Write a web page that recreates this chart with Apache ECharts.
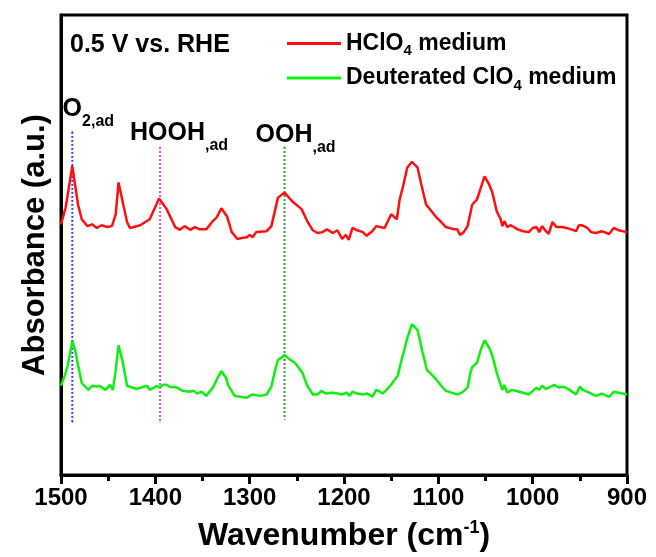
<!DOCTYPE html>
<html>
<head>
<meta charset="utf-8">
<script src="https://cdn.jsdelivr.net/npm/echarts@6/dist/echarts.min.js"></script>
<style>html,body{margin:0;padding:0;background:#fff}#c{width:656px;height:557px}</style>
</head>
<body>
<div id="c"></div>
<script>
// ---- data ----
const redWavenumber = [1500,1495,1488,1482,1478,1472,1467,1462,1457,1451,1446,1442,1439,1434,1430,1427,1416,1406,1396,1388,1379,1374,1369,1363,1358,1353,1346,1339,1335,1330,1324,1319,1313,1309,1303,1300,1297,1293,1282,1277,1270,1263,1255,1245,1239,1233,1228,1223,1218,1212,1207,1202,1198,1195,1191,1186,1180,1176,1170,1166,1157,1150,1144,1141,1137,1133,1128,1122,1118,1113,1107,1102,1097,1092,1083,1080,1077,1073,1069,1064,1059,1051,1046,1043,1038,1034,1032,1030,1027,1023,1016,1010,1004,1000,996,993,990,986,983,979,975,969,964,959,954,951,948,942,938,933,927,919,914,909,900];
const redAbsorbance = [54.5,58.2,67.2,58.8,55.6,54.1,54.5,53.7,54.3,53.9,54.1,56.7,63.6,58.8,55.0,53.7,54.3,55.6,60.1,57.8,53.9,53.3,54.1,53.3,53.9,53.4,53.4,55.2,56.0,58.0,56.2,52.8,51.3,51.5,51.7,52.2,51.7,52.8,53.0,54.1,60.3,61.4,59.5,57.8,55.2,53.2,52.6,52.8,53.4,52.6,53.2,51.3,52.2,51.1,53.7,53.2,52.8,52.0,53.0,54.1,53.7,56.7,55.6,59.9,63.1,66.8,68.1,66.8,63.1,58.8,57.3,56.0,55.0,53.9,53.4,53.4,52.2,52.8,54.1,58.8,59.9,64.9,63.1,61.6,57.3,55.6,54.1,55.2,53.9,54.3,53.4,53.0,52.8,53.7,53.9,52.8,54.1,53.0,52.4,55.0,53.9,53.9,53.7,53.4,53.0,54.3,54.3,53.7,52.8,52.6,53.0,52.4,53.7,53.2,52.8];

const greenWavenumber = [1500,1496,1493,1488,1485,1483,1478,1471,1467,1462,1459,1453,1448,1445,1442,1439,1435,1430,1420,1409,1406,1398,1395,1392,1388,1385,1377,1371,1364,1359,1356,1351,1346,1339,1334,1330,1325,1323,1316,1310,1303,1300,1297,1289,1282,1277,1273,1270,1266,1263,1258,1252,1248,1244,1239,1233,1228,1224,1219,1212,1207,1202,1197,1194,1191,1186,1180,1175,1170,1166,1162,1159,1154,1150,1143,1139,1136,1133,1128,1122,1117,1112,1107,1102,1097,1092,1086,1080,1075,1069,1066,1064,1059,1055,1051,1046,1043,1038,1034,1032,1030,1027,1022,1014,1004,996,993,990,986,983,977,972,967,961,954,950,947,940,933,927,919,914,909,900];
const greenAbsorbance = [19.4,21.6,23.7,29.1,27.2,25.0,20.0,18.5,19.4,19.2,19.4,18.5,19.6,18.5,22.8,28.2,25.0,19.4,18.7,19.4,18.5,19.4,19.0,19.6,19.6,19.2,19.0,18.3,18.1,18.3,17.7,18.1,17.2,19.0,21.1,22.6,21.1,19.6,17.2,17.0,16.8,17.2,17.5,17.2,17.5,19.2,22.8,25.0,25.6,26.1,25.2,24.4,23.3,22.2,19.4,17.5,17.5,18.3,17.7,17.9,17.7,17.5,17.9,17.2,18.1,17.7,17.5,17.7,17.0,18.5,18.1,17.7,18.7,19.6,21.6,25.0,27.2,29.7,32.8,31.5,26.9,22.8,21.8,20.7,19.4,18.3,17.9,17.5,17.9,19.0,22.2,23.5,24.4,27.2,29.3,27.6,26.1,22.2,19.6,18.5,19.6,17.9,18.5,18.1,17.5,19.0,18.5,19.4,18.7,19.0,19.6,19.0,19.2,18.5,17.5,19.2,18.5,17.9,17.2,17.7,17.0,18.1,17.9,17.5];

const seriesNames = ['HClO4 medium', 'Deuterated ClO4 medium'];
const legendRich = ['{n|HClO}{s|4}{n| medium}', '{n|Deuterated ClO}{s|4}{n| medium}'];

const markerWavenumber = [1488, 1395, 1263];
const markerTop = [74.6, 71.3, 71.3];
const markerBottom = [11.4, 11.4, 12.1];
const markerText = ['{m|O}{s|2,ad}', '{m|HOOH}{s|,ad}', '{m|OOH}{s|,ad}'];
const markerColors = ['#3a3aff', '#ff3cff', '#3c963c'];
const markerLabelOffset = [[16, -2], [19, 7], [11, 9]];

const xTickMin = 900, xTickMax = 1500, xTickStep = 100;
const FONT = "'Liberation Sans', Arial, sans-serif";

// ---- chart ----
const chart = echarts.init(document.getElementById('c'), null, {renderer: 'canvas'});

const markerSeries = markerWavenumber.map((w, i) => ({
  type: 'line',
  silent: true,
  symbol: 'rect',
  symbolSize: 1,
  showSymbol: true,
  z: 1,
  lineStyle: {color: markerColors[i], width: 2, type: [2, 2]},
  itemStyle: {color: markerColors[i]},
  data: [
    {
      value: [w, markerTop[i]],
      label: {
        show: true,
        position: 'top',
        distance: 0,
        offset: markerLabelOffset[i],
        formatter: markerText[i],
        rich: {
          m: {fontSize: 25, lineHeight: 40, fontWeight: 'bold', color: '#000', fontFamily: FONT},
          s: {fontSize: 16, lineHeight: 16, fontWeight: 'bold', color: '#000', fontFamily: FONT, verticalAlign: 'bottom'}
        }
      }
    },
    [w, markerBottom[i]]
  ]
}));

const zip = (a, b) => a.map((v, i) => [v, b[i]]);

chart.setOption({
  animation: false,
  backgroundColor: '#fff',
  grid: {left: 61, right: 29, top: 15, bottom: 79, show: true, borderColor: '#000', borderWidth: 3, backgroundColor: 'transparent'},
  legend: {
    data: seriesNames,
    orient: 'vertical',
    left: 287,
    top: 32,
    padding: 0,
    itemGap: 8,
    itemWidth: 54,
    itemHeight: 3,
    icon: 'rect',
    formatter: name => legendRich[seriesNames.indexOf(name)],
    textStyle: {
      rich: {
        n: {fontSize: 23, lineHeight: 30, fontWeight: 'bold', color: '#000', fontFamily: FONT},
        s: {fontSize: 15, lineHeight: 14, fontWeight: 'bold', color: '#000', fontFamily: FONT, verticalAlign: 'bottom'}
      }
    }
  },
  xAxis: {
    type: 'value',
    inverse: true,
    min: xTickMin,
    max: xTickMax,
    interval: xTickStep,
    axisLine: {show: true, lineStyle: {color: '#000', width: 3}},
    axisTick: {show: true, inside: false, length: 9, lineStyle: {color: '#000', width: 3}},
    minorTick: {show: true, splitNumber: 2, length: 6, lineStyle: {color: '#000', width: 3}},
    splitLine: {show: false},
    minorSplitLine: {show: false},
    axisLabel: {fontSize: 24, fontWeight: 'bold', color: '#000', margin: 11, fontFamily: FONT, formatter: v => String(v)},
    name: '{a|Wavenumber (cm}{b|-1}{a|)}',
    nameLocation: 'middle',
    nameGap: 44,
    nameTextStyle: {
      rich: {
        a: {fontSize: 32, lineHeight: 34, fontWeight: 'bold', color: '#000', fontFamily: FONT},
        b: {fontSize: 18, lineHeight: 14, fontWeight: 'bold', color: '#000', fontFamily: FONT, verticalAlign: 'top'}
      }
    }
  },
  yAxis: {
    type: 'value',
    min: 0,
    max: 100,
    axisLine: {show: true, lineStyle: {color: '#000', width: 3}},
    axisTick: {show: false},
    axisLabel: {show: false},
    splitLine: {show: false},
    name: 'Absorbance (a.u.)',
    nameLocation: 'middle',
    nameGap: 10,
    nameTextStyle: {fontSize: 31, fontWeight: 'bold', color: '#000', fontFamily: FONT}
  },
  graphic: [{
    type: 'text',
    x: 70,
    y: 45,
    style: {text: '0.5 V vs. RHE', font: "bold 25px 'Liberation Sans', Arial, sans-serif", fill: '#000', verticalAlign: 'middle'}
  }],
  series: [
    {
      name: seriesNames[0], type: 'line', showSymbol: false, symbol: 'none', z: 3,
      lineStyle: {color: '#ff1010', width: 2.5}, itemStyle: {color: '#ff1010'},
      data: zip(redWavenumber, redAbsorbance)
    },
    {
      name: seriesNames[1], type: 'line', showSymbol: false, symbol: 'none', z: 3,
      lineStyle: {color: '#10f010', width: 2.5}, itemStyle: {color: '#10f010'},
      data: zip(greenWavenumber, greenAbsorbance)
    }
  ].concat(markerSeries)
});
</script>
</body>
</html>
